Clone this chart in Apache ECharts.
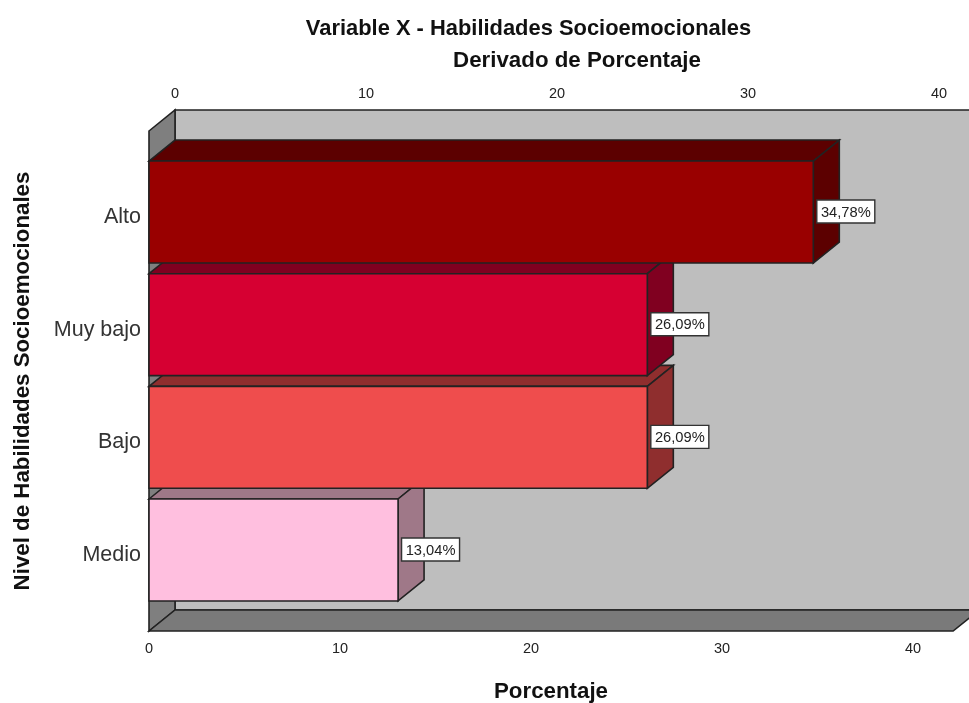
<!DOCTYPE html>
<html><head><meta charset="utf-8">
<style>html,body{margin:0;padding:0;background:#fff}#c{width:969px;height:703px}</style>
<script src="https://cdn.jsdelivr.net/npm/echarts@6/dist/echarts.min.js"></script></head>
<body><div id="c"></div>
<script>
const categories = ['Alto', 'Muy bajo', 'Bajo', 'Medio'];
const values = [34.78, 26.09, 26.09, 13.04];
const xTicksMax = 40;
const frameEnd = 42.1;
const faceColors = ['#990000', '#D60032', '#EF4D4D', '#FFBFDF'];
const sideColors = ['#5C0000', '#800020', '#8F2E2E', '#9F7888'];

const DX = 26, DY = -21, EDGE = '#222222', FONT = '"Liberation Sans", Arial, sans-serif';
const LINE = {stroke: EDGE, lineWidth: 1.6};
function poly(points, fill) {
  return {type: 'polygon', shape: {points}, style: Object.assign({fill}, LINE)};
}
function shift(p) { return [p[0] + DX, p[1] + DY]; }

const chart = echarts.init(document.getElementById('c'), null, {renderer: 'canvas'});
const GRID_PAD = 24.7;

function renderFrame(params, api) {
  const sz = api.size([0, 1])[1];
  const cTop = api.coord([0, 0])[1] - sz / 2 - GRID_PAD;
  const cBot = api.coord([0, categories.length - 1])[1] + sz / 2 + GRID_PAD;
  const x0 = api.coord([0, 0])[0];
  const x1 = api.coord([frameEnd, 0])[0];
  const a = [x0, cTop], b = [x0, cBot], c = [x1, cBot];
  return {type: 'group', children: [
    poly([shift(a), [x1 + DX + 40, cTop + DY], [x1 + DX + 40, cBot + DY], shift(b)], '#BEBEBE'),
    poly([a, shift(a), shift(b), b], '#7F7F7F'),
    poly([b, shift(b), [x1 + DX + 40, cBot + DY], shift(c), c], '#7A7A7A')
  ]};
}
function renderBar(params, api) {
  const i = api.value(0), v = api.value(1);
  const sz = api.size([0, 1])[1] * 0.905;
  const base = api.coord([0, i]), end = api.coord([v, i]);
  const t = end[1] - sz / 2, bm = end[1] + sz / 2;
  const tl = [base[0], t], tr = [end[0], t], br = [end[0], bm], bl = [base[0], bm];
  return {type: 'group', children: [
    poly([tl, shift(tl), shift(tr), tr], sideColors[i]),
    poly([tr, shift(tr), shift(br), br], sideColors[i]),
    poly([tl, tr, br, bl], faceColors[i])
  ]};
}
function renderLabel(params, api) {
  const i = api.value(0), v = api.value(1);
  const p = api.coord([v, i]);
  const txt = v.toFixed(2).replace('.', ',') + '%';
  const w = 58, h = 23, x = p[0] + 3.5, y = p[1] - 12;
  return {type: 'group', children: [
    {type: 'rect', shape: {x, y, width: w, height: h}, style: {fill: '#fff', stroke: '#333', lineWidth: 1.4}},
    {type: 'text', style: {x: x + w / 2, y: y + h / 2 + 1, text: txt, fill: '#222', font: '14.7px ' + FONT, textAlign: 'center', textVerticalAlign: 'middle'}}
  ]};
}
const order = categories.map((_, i) => [i, values[i]]).reverse();
const tickLabel = {fontFamily: FONT, fontSize: 14.5, color: '#222', margin: 9};
const nameStyle = {fontFamily: FONT, fontSize: 22.3, fontWeight: 'bold', color: '#111'};

chart.setOption({
  animation: false,
  backgroundColor: '#fff',
  title: {text: 'Variable X - Habilidades Socioemocionales', left: 523.5, top: 13, textAlign: 'center',
    textStyle: {fontFamily: FONT, fontSize: 21.9, fontWeight: 'bold', color: '#111'}},
  grid: [
    {left: 149, width: 764, top: 155.7, height: 450.6, outerBoundsMode: 'none'},
    {left: 175, width: 764, top: 110, height: 500, outerBoundsMode: 'none'}
  ],
  xAxis: [
    {type: 'value', gridIndex: 0, min: 0, max: xTicksMax, interval: 10, position: 'bottom', offset: GRID_PAD,
     axisLine: {show: false}, axisTick: {show: false}, splitLine: {show: false}, axisLabel: Object.assign({}, tickLabel, {margin: 10}),
     name: 'Porcentaje', nameLocation: 'middle', nameGap: 50, nameTextStyle: Object.assign({padding: [0, 0, 0, 40]}, nameStyle)},
    {type: 'value', gridIndex: 1, min: 0, max: xTicksMax, interval: 10, position: 'top',
     axisLine: {show: false}, axisTick: {show: false}, splitLine: {show: false}, axisLabel: tickLabel,
     name: 'Derivado de Porcentaje', nameLocation: 'middle', nameGap: 38, nameTextStyle: Object.assign({padding: [0, 0, 0, 40]}, nameStyle)}
  ],
  yAxis: [
    {type: 'category', gridIndex: 0, data: categories, inverse: true,
     axisLine: {show: false}, axisTick: {show: false}, splitLine: {show: false},
     axisLabel: {fontFamily: FONT, fontSize: 21.5, color: '#333', margin: 8, verticalAlign: 'top', lineHeight: 10},
     name: 'Nivel de Habilidades Socioemocionales', nameLocation: 'middle', nameGap: 115, nameTextStyle: nameStyle},
    {type: 'value', gridIndex: 1, min: 0, max: 1, show: false}
  ],
  series: [
    {type: 'custom', name: 'frame', z: 1, clip: false, xAxisIndex: 0, yAxisIndex: 0, coordinateSystem: 'cartesian2d', silent: true,
     data: [[0, 0]], renderItem: renderFrame},
    {type: 'custom', name: 'Porcentaje', z: 2, clip: false, xAxisIndex: 0, yAxisIndex: 0, coordinateSystem: 'cartesian2d',
     encode: {x: 1, y: 0}, data: order, renderItem: renderBar},
    {type: 'custom', name: 'labels', z: 3, clip: false, xAxisIndex: 0, yAxisIndex: 0, coordinateSystem: 'cartesian2d',
     encode: {x: 1, y: 0}, data: order, renderItem: renderLabel}
  ]
});
</script></body></html>
